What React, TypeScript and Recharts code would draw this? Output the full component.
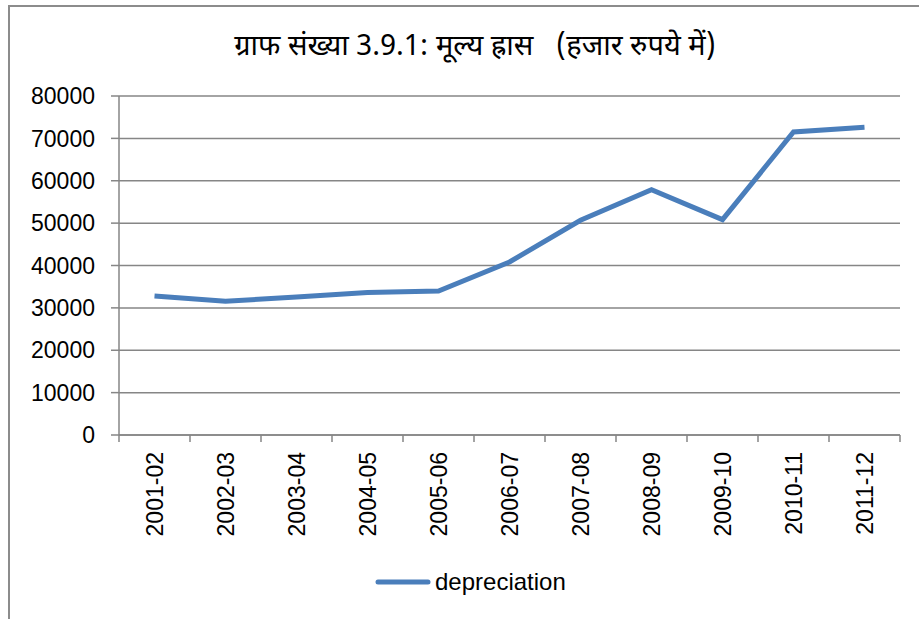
import React from 'react';
import { LineChart, Line, XAxis, YAxis, CartesianGrid, Legend } from 'recharts';

const categories = ['2001-02', '2002-03', '2003-04', '2004-05', '2005-06', '2006-07', '2007-08', '2008-09', '2009-10', '2010-11', '2011-12'];
const depreciation = [32800, 31550, 32570, 33600, 33980, 40830, 50670, 57900, 50830, 71500, 72600];
const yTicks = [0, 10000, 20000, 30000, 40000, 50000, 60000, 70000, 80000];
const seriesName = 'depreciation';
const title = 'ग्राफ संख्या 3.9.1: मूल्य ह्रास   (हजार रुपये में)';

const data = categories.map((c, i) => ({ cat: c, depreciation: depreciation[i] }));

const W = 919;
const H = 619;
const M = { top: 96, right: 19, left: 0, bottom: 22 };
const Y_W = 119;
const PLOT_W = W - M.left - M.right - Y_W;
const BAND = PLOT_W / categories.length;
const AXIS = '#868686';
const FONT = "'Liberation Sans', Arial, sans-serif";
const X_TICK_SIZE = 7;
const X_TICK_MARGIN = 10;

const XTick = (props: any) => {
  const { x, y, payload, index } = props;
  const axisY = y - X_TICK_SIZE - X_TICK_MARGIN;
  const isLast = index === categories.length - 1;
  return (
    <g>
      <line x1={x - BAND / 2} x2={x - BAND / 2} y1={axisY} y2={axisY + X_TICK_SIZE} stroke={AXIS} strokeWidth={1.5} />
      {isLast && (
        <line x1={x + BAND / 2} x2={x + BAND / 2} y1={axisY} y2={axisY + X_TICK_SIZE} stroke={AXIS} strokeWidth={1.5} />
      )}
      <text
        x={x}
        y={y}
        transform={`rotate(-90, ${x}, ${y})`}
        textAnchor="end"
        dominantBaseline="central"
        fontSize={23}
        fontFamily={FONT}
        fill="#000"
      >
        {payload.value}
      </text>
    </g>
  );
};

const LegendContent = () => (
  <div style={{ display: 'flex', alignItems: 'center', height: 30, paddingLeft: 375, boxSizing: 'border-box' }}>
    <svg width={56} height={8} style={{ display: 'block' }}>
      <line x1={3} x2={53} y1={4} y2={4} stroke="#4a7ebb" strokeWidth={5} strokeLinecap="round" />
    </svg>
    <span style={{ fontFamily: FONT, fontSize: 24, color: '#000', marginLeft: 4, lineHeight: '30px' }}>{seriesName}</span>
  </div>
);

export default function App() {
  return (
    <div style={{ position: 'absolute', left: 0, top: 0, width: W, height: H, background: '#fff' }}>
      <div
        style={{
          position: 'absolute',
          left: 8,
          top: 5,
          width: W - 8,
          height: H - 5,
          borderLeft: '2px solid #8c8c8c',
          borderTop: '2px solid #8c8c8c',
          boxSizing: 'border-box',
        }}
      />
      <div
        style={{
          position: 'absolute',
          left: 0,
          top: 28,
          width: 950,
          textAlign: 'center',
          whiteSpace: 'pre',
          fontFamily: "'Noto Sans Devanagari', 'Lohit Devanagari', 'Noto Sans', 'Liberation Sans', sans-serif",
          fontSize: 29,
          lineHeight: '40px',
          color: '#000',
        }}
      >
        {title}
      </div>
      <div style={{ position: 'absolute', left: 0, top: 0 }}>
        <LineChart width={W} height={H} data={data} margin={M}>
          <CartesianGrid vertical={false} stroke={AXIS} strokeWidth={1.5} />
          <XAxis
            dataKey="cat"
            scale="band"
            interval={0}
            height={132}
            tickLine={false}
            tickSize={X_TICK_SIZE}
            tickMargin={X_TICK_MARGIN}
            axisLine={{ stroke: AXIS, strokeWidth: 1.5 }}
            tick={<XTick />}
          />
          <YAxis
            width={Y_W}
            domain={[0, 80000]}
            ticks={yTicks}
            interval={0}
            tickSize={8}
            tickMargin={16}
            axisLine={{ stroke: AXIS, strokeWidth: 1.5 }}
            tickLine={{ stroke: AXIS, strokeWidth: 1.5 }}
            tick={{ fontSize: 23, fontFamily: FONT, fill: '#000' }}
          />
          <Legend verticalAlign="bottom" wrapperStyle={{ height: 30, left: 0, width: W }} content={<LegendContent />} />
          <Line
            type="linear"
            dataKey="depreciation"
            name={seriesName}
            stroke="#4a7ebb"
            strokeWidth={5}
            dot={false}
            activeDot={false}
            isAnimationActive={false}
          />
        </LineChart>
      </div>
    </div>
  );
}
